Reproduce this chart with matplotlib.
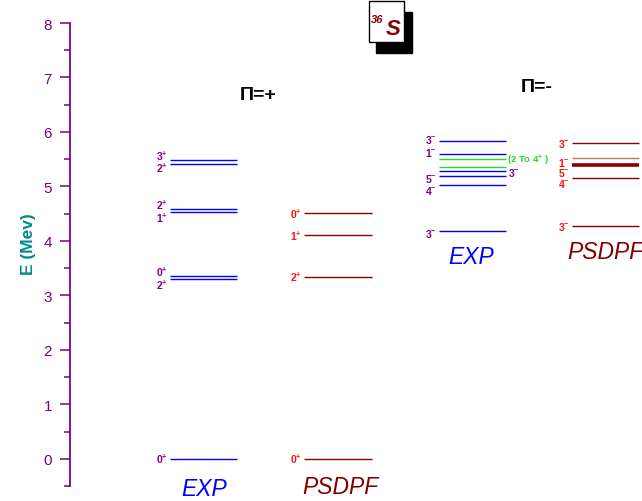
import matplotlib
matplotlib.use("Agg")
import matplotlib.pyplot as plt
from matplotlib.patches import Rectangle
from matplotlib.ticker import MultipleLocator

plt.rcParams['font.family'] = ['Liberation Sans', 'DejaVu Sans']
plt.rcParams['mathtext.fontset'] = 'custom'
plt.rcParams['mathtext.rm'] = 'Liberation Sans:bold'
plt.rcParams['mathtext.bf'] = 'Liberation Sans:bold'
plt.rcParams['mathtext.default'] = 'bf'

# level energies (MeV) and spin labels
exp_pos_E = [0.0, 3.30, 3.36, 4.53, 4.59, 5.41, 5.49]
exp_pos_J = ['0^{+}', '2^{+}', '0^{+}', '1^{+}', '2^{+}', '2^{+}', '3^{+}']

psdpf_pos_E = [0.0, 3.34, 4.11, 4.51]
psdpf_pos_J = ['0^{+}', '2^{+}', '1^{+}', '0^{+}']

exp_neg_E = [4.19, 5.03, 5.20, 5.28, 5.60, 5.83]
exp_neg_J = ['3^{-}', '4^{-}', '5^{-}', '3^{-}', '1^{-}', '3^{-}']
exp_neg_tentative_E = [5.35, 5.50]
tentative_label = '(2 To 4$^{+}$ )'

psdpf_neg_E = [4.28, 5.15, 5.17, 5.39, 5.52, 5.79]
psdpf_neg_J = ['3^{-}', '4^{-}', '5^{-}', '1^{-}', '2^{-}', '3^{-}']

# layout: label side and vertical nudge (points) per level
exp_pos_off = [0, 3.5, -3.5, 3.5, -3.5, 2.5, -3.5]
psdpf_pos_off = [0, 0, 0, 0]
exp_neg_side = ['L', 'L', 'L', 'R', 'L', 'L']
exp_neg_off = [1.5, 3.5, 1.5, 0.5, -1, -1.5]
psdpf_neg_side = ['L', 'L', 'L', 'L', 'R', 'L']
psdpf_neg_off = [0, 3.5, -3.5, -2.5, 0, 0]
psdpf_neg_lw = [1, 1, 0, 2.6, 1, 1]
psdpf_neg_alpha = [1, 1, 1, 1, 0.55, 1]

purple = '#800080'
red = '#ff1010'
blue = '#0000ff'
dred = '#8b0000'

fig = plt.figure(figsize=(6.42, 5.02), dpi=100)
ax = fig.add_axes([70 / 642, 15 / 502, 572 / 642, 463 / 502])
ax.set_xlim(70, 642)
ax.set_ylim(-0.5, 8)

for s in ['top', 'right', 'bottom']:
    ax.spines[s].set_visible(False)
ax.spines['left'].set_color(purple)
ax.spines['left'].set_linewidth(1.3)
ax.set_xticks([])
ax.yaxis.set_major_locator(MultipleLocator(1))
ax.yaxis.set_minor_locator(MultipleLocator(0.5))
ax.tick_params(axis='y', which='major', length=7, width=1.1, color=purple,
               labelcolor=purple, labelsize=11, pad=6)
ax.tick_params(axis='y', which='minor', length=4, width=1.1, color=purple)
ax.set_ylabel('E (Mev)', color='#008b8b', fontsize=12.5, fontweight='bold')
ax.yaxis.set_label_coords(-0.06, 0.525)


def draw_levels(E, J, x0, x1, color, lcolor, offs, sides=None, lws=None, alphas=None):
    for i, (e, j) in enumerate(zip(E, J)):
        lw = 1 if lws is None else lws[i]
        a = 1 if alphas is None else alphas[i]
        if lw > 0:
            ax.hlines(e, x0, x1, color=color, lw=lw, alpha=a, clip_on=False)
        side = 'L' if sides is None else sides[i]
        xt = x0 - 2 if side == 'L' else x1 + 2
        ax.annotate('$' + j + '$', (xt, e), xytext=(0, -offs[i]),
                    textcoords='offset points', fontsize=7.5,
                    ha='right' if side == 'L' else 'left', va='center',
                    color=lcolor, annotation_clip=False)


draw_levels(exp_pos_E, exp_pos_J, 170, 237, blue, purple, exp_pos_off)
draw_levels(psdpf_pos_E, psdpf_pos_J, 304, 372, dred, red, psdpf_pos_off)
draw_levels(exp_neg_E, exp_neg_J, 439, 506, blue, purple, exp_neg_off, exp_neg_side)
ax.hlines(exp_neg_tentative_E, 439, 506, color='#22dd22', lw=1)
ax.text(507, exp_neg_tentative_E[1], tentative_label, fontsize=6.8, fontweight='bold',
        color='#22dd22', va='center', ha='left')
draw_levels(psdpf_neg_E, psdpf_neg_J, 572, 639, dred, red, psdpf_neg_off,
            psdpf_neg_side, psdpf_neg_lw, psdpf_neg_alpha)

# column captions
ax.text(204, -0.55, 'EXP', color=blue, fontsize=16.5, style='italic', ha='center', va='center', clip_on=False)
ax.text(340, -0.51, 'PSDPF', color='#800000', fontsize=16.5, style='italic', ha='center', va='center', clip_on=False)
ax.text(471, 3.71, 'EXP', color=blue, fontsize=16.5, style='italic', ha='center', va='center')
ax.text(605, 3.80, 'PSDPF', color='#800000', fontsize=16.5, style='italic', ha='center', va='center', clip_on=False)
ax.text(258, 6.68, 'Π=+', fontsize=14, fontweight='bold', ha='center', va='center')
ax.text(537, 6.83, 'Π=-', fontsize=14, fontweight='bold', ha='center', va='center')

# nucleus box
ax.add_patch(Rectangle((376, 7.45), 36, 0.75, color='black', clip_on=False))
ax.add_patch(Rectangle((368.5, 7.66), 35, 0.74, facecolor='white', edgecolor='black',
                       lw=1, clip_on=False))
ax.text(371, 8.08, '36', fontsize=8, fontweight='bold', style='italic', color='#8b0000',
        ha='left', va='center', clip_on=False)
ax.text(386, 7.90, 'S', fontsize=16, fontweight='bold', style='italic', color='#8b0000',
        ha='left', va='center', clip_on=False)

fig.savefig('out.png', dpi=100)
